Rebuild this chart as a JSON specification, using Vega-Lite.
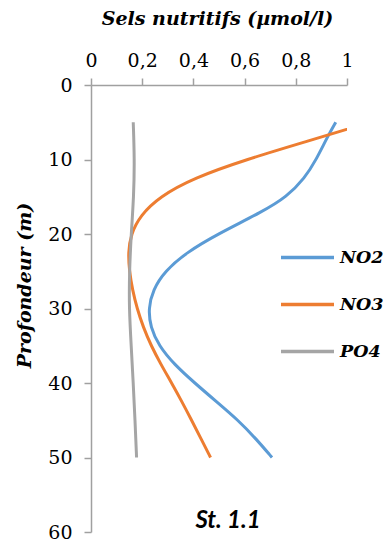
{
  "$schema": "https://vega.github.io/schema/vega-lite/v6.json",
  "autosize": {"type": "none"},
  "width": 256,
  "height": 447,
  "padding": {"left": 91, "top": 85, "right": 40, "bottom": 16},
  "background": "white",
  "title": {
    "text": "St. 1.1",
    "orient": "bottom",
    "frame": "group",
    "anchor": "middle",
    "baseline": "middle",
    "offset": -21,
    "dx": 9,
    "font": "Lato",
    "fontSize": 24,
    "fontWeight": "bold",
    "fontStyle": "italic",
    "color": "#000000"
  },
  "data": {
    "values": [
      {"ion": "NO2", "depth": 5, "value": 0.956},
      {"ion": "NO2", "depth": 7, "value": 0.923},
      {"ion": "NO2", "depth": 10, "value": 0.88},
      {"ion": "NO2", "depth": 12.5, "value": 0.835},
      {"ion": "NO2", "depth": 15, "value": 0.765},
      {"ion": "NO2", "depth": 17, "value": 0.67},
      {"ion": "NO2", "depth": 20, "value": 0.495},
      {"ion": "NO2", "depth": 22.5, "value": 0.372},
      {"ion": "NO2", "depth": 25, "value": 0.288},
      {"ion": "NO2", "depth": 27.5, "value": 0.242},
      {"ion": "NO2", "depth": 30, "value": 0.224},
      {"ion": "NO2", "depth": 32.5, "value": 0.232},
      {"ion": "NO2", "depth": 35, "value": 0.265},
      {"ion": "NO2", "depth": 37.5, "value": 0.325},
      {"ion": "NO2", "depth": 40, "value": 0.405},
      {"ion": "NO2", "depth": 42.5, "value": 0.49},
      {"ion": "NO2", "depth": 45, "value": 0.575},
      {"ion": "NO2", "depth": 47.5, "value": 0.645},
      {"ion": "NO2", "depth": 50, "value": 0.707},
      {"ion": "NO3", "depth": 5, "value": 1.09},
      {"ion": "NO3", "depth": 7.5, "value": 0.85},
      {"ion": "NO3", "depth": 10, "value": 0.606},
      {"ion": "NO3", "depth": 12.5, "value": 0.4},
      {"ion": "NO3", "depth": 15, "value": 0.268},
      {"ion": "NO3", "depth": 17.5, "value": 0.193},
      {"ion": "NO3", "depth": 20, "value": 0.156},
      {"ion": "NO3", "depth": 22.5, "value": 0.145},
      {"ion": "NO3", "depth": 25, "value": 0.15},
      {"ion": "NO3", "depth": 27.5, "value": 0.162},
      {"ion": "NO3", "depth": 30, "value": 0.18},
      {"ion": "NO3", "depth": 32.5, "value": 0.204},
      {"ion": "NO3", "depth": 35, "value": 0.235},
      {"ion": "NO3", "depth": 37.5, "value": 0.273},
      {"ion": "NO3", "depth": 40, "value": 0.315},
      {"ion": "NO3", "depth": 42.5, "value": 0.355},
      {"ion": "NO3", "depth": 45, "value": 0.393},
      {"ion": "NO3", "depth": 47.5, "value": 0.43},
      {"ion": "NO3", "depth": 50, "value": 0.467},
      {"ion": "PO4", "depth": 5, "value": 0.165},
      {"ion": "PO4", "depth": 10, "value": 0.17},
      {"ion": "PO4", "depth": 15, "value": 0.167},
      {"ion": "PO4", "depth": 20, "value": 0.157},
      {"ion": "PO4", "depth": 25, "value": 0.15},
      {"ion": "PO4", "depth": 30, "value": 0.149},
      {"ion": "PO4", "depth": 35, "value": 0.157},
      {"ion": "PO4", "depth": 40, "value": 0.165},
      {"ion": "PO4", "depth": 45, "value": 0.172},
      {"ion": "PO4", "depth": 50, "value": 0.178}
    ]
  },
  "mark": {"type": "line", "strokeWidth": 3, "interpolate": "basis", "clip": true},
  "encoding": {
    "x": {
      "field": "value",
      "type": "quantitative",
      "scale": {"domain": [0, 1], "nice": false, "zero": true},
      "axis": {
        "orient": "top",
        "title": "Sels nutritifs (µmol/l)",
        "values": [0, 0.2, 0.4, 0.6, 0.8, 1],
        "labelExpr": "replace(format(datum.value, '.1~f'), '.', ',')",
        "grid": false,
        "domainColor": "#A0A0A0",
        "domainWidth": 1.5,
        "tickColor": "#A0A0A0",
        "tickWidth": 1.5,
        "tickSize": 7,
        "labelPadding": 8,
        "labelFont": "DejaVu Serif",
        "labelFontSize": 19,
        "labelColor": "#000000",
        "labelFlush": false,
        "titleFont": "DejaVu Serif",
        "titleFontSize": 19,
        "titleFontWeight": "bold",
        "titleFontStyle": "italic",
        "titleColor": "#000000",
        "titleBaseline": "middle",
        "titleY": -67,
        "titleX": 126
      }
    },
    "y": {
      "field": "depth",
      "type": "quantitative",
      "scale": {"domain": [0, 60], "reverse": true, "nice": false},
      "axis": {
        "title": "Profondeur (m)",
        "values": [0, 10, 20, 30, 40, 50, 60],
        "grid": false,
        "domainColor": "#A0A0A0",
        "domainWidth": 1.5,
        "tickColor": "#A0A0A0",
        "tickWidth": 1.5,
        "tickSize": 7,
        "labelPadding": 12,
        "labelFont": "DejaVu Serif",
        "labelFontSize": 19,
        "labelColor": "#000000",
        "labelFlush": false,
        "titleFont": "DejaVu Serif",
        "titleFontSize": 19,
        "titleFontWeight": "bold",
        "titleFontStyle": "italic",
        "titleColor": "#000000",
        "titleAngle": -90,
        "titleAlign": "center",
        "titleBaseline": "middle",
        "titleX": -67,
        "titleY": 200
      }
    },
    "color": {
      "field": "ion",
      "type": "nominal",
      "scale": {"domain": ["NO2", "NO3", "PO4"], "range": ["#5B9BD5", "#ED7D31", "#A5A5A5"]},
      "legend": {
        "orient": "none",
        "legendX": 188,
        "legendY": 144,
        "title": null,
        "symbolType": "stroke",
        "symbolSize": 2809,
        "symbolStrokeWidth": 3.5,
        "labelOffset": 4,
        "rowPadding": 10,
        "labelFont": "DejaVu Serif",
        "labelFontSize": 17.5,
        "labelFontWeight": "bold",
        "labelFontStyle": "italic",
        "labelColor": "#000000"
      }
    },
    "order": {"field": "depth", "type": "quantitative"}
  },
  "config": {"view": {"stroke": null}}
}
